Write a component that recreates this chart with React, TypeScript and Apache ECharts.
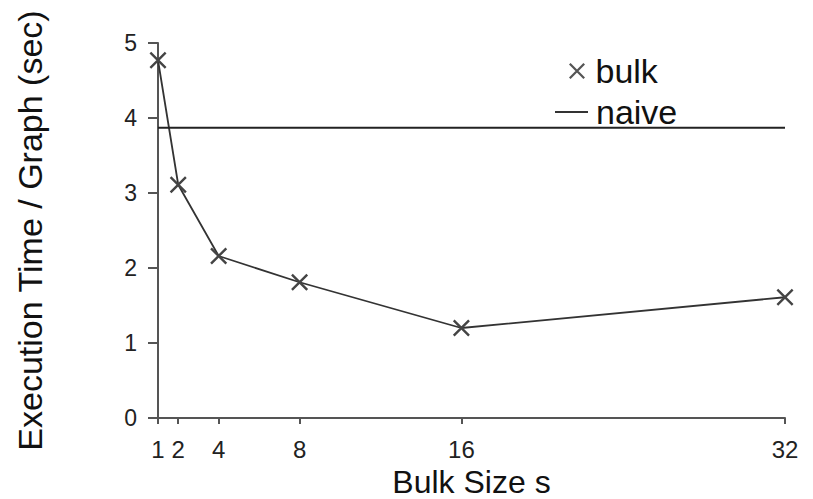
import React, { useEffect, useRef } from "react";
import * as echarts from "echarts";

const bulkSizes = [1, 2, 4, 8, 16, 32];
const bulkTimes = [4.77, 3.11, 2.16, 1.81, 1.2, 1.61];
const naiveX = [1, 32];
const naiveTime = 3.87;
const xTickValues = [1, 2, 4, 8, 16, 32];

const X_PATH = "path://M0,1 L1,0 L10,9 L9,10 Z M9,0 L10,1 L1,10 L0,9 Z";
const FONT = "Liberation Sans, Arial, Helvetica, sans-serif";

export default function App() {
  const ref = useRef<HTMLDivElement>(null);
  useEffect(() => {
    if (!ref.current) return;
    const chart = echarts.init(ref.current, undefined, { renderer: "svg" });
    chart.setOption({
      animation: false,
      backgroundColor: "#fff",
      grid: { left: 158, right: 28, top: 43, bottom: 81, outerBoundsMode: "none", containLabel: false },
      legend: [
        {
          data: [{ name: "bulk", icon: X_PATH }],
          left: 564,
          top: 49,
          itemWidth: 17,
          itemHeight: 16,
          itemStyle: { color: "#555" },
          textStyle: { fontSize: 34, color: "#111", fontFamily: FONT, padding: [0, 0, 0, 5] },
        },
        {
          data: [{ name: "naive", icon: "rect" }],
          left: 550,
          top: 90,
          itemWidth: 33,
          itemHeight: 2,
          itemStyle: { color: "#333" },
          textStyle: { fontSize: 34, color: "#111", fontFamily: FONT, padding: [0, 0, 0, 3] },
        },
      ],
      xAxis: {
        type: "value",
        min: 1,
        max: 32,
        name: "Bulk Size s",
        nameLocation: "middle",
        nameGap: 41,
        nameTextStyle: { fontSize: 32, lineHeight: 32, color: "#111", fontFamily: FONT },
        splitLine: { show: false },
        axisLine: { show: true, lineStyle: { color: "#555", width: 2 } },
        axisTick: { show: true, customValues: xTickValues, length: 6, lineStyle: { color: "#555", width: 2 } },
        axisLabel: { customValues: xTickValues, fontSize: 24, color: "#222", fontFamily: FONT, margin: 19 },
      },
      yAxis: {
        type: "value",
        min: 0,
        max: 5,
        interval: 1,
        name: "Execution Time / Graph (sec)",
        nameLocation: "middle",
        nameGap: 111,
        nameTextStyle: { fontSize: 34, color: "#111", fontFamily: FONT },
        splitLine: { show: false },
        axisLine: { show: true, lineStyle: { color: "#555", width: 2 } },
        axisTick: { show: true, length: 10, lineStyle: { color: "#555", width: 2 } },
        axisLabel: { fontSize: 23, color: "#222", fontFamily: FONT, margin: 21 },
      },
      series: [
        {
          name: "bulk",
          type: "line",
          data: bulkSizes.map((x, i) => [x, bulkTimes[i]]),
          symbol: X_PATH,
          symbolSize: 17,
          itemStyle: { color: "#444" },
          lineStyle: { color: "#333", width: 1.8 },
        },
        {
          name: "naive",
          type: "line",
          data: naiveX.map((x) => [x, naiveTime]),
          symbol: "none",
          itemStyle: { color: "#333" },
          lineStyle: { color: "#222", width: 2 },
        },
      ],
    });
    return () => chart.dispose();
  }, []);
  return (
    <div
      ref={ref}
      style={{ position: "fixed", left: 0, top: 0, width: 813, height: 499 }}
    />
  );
}
